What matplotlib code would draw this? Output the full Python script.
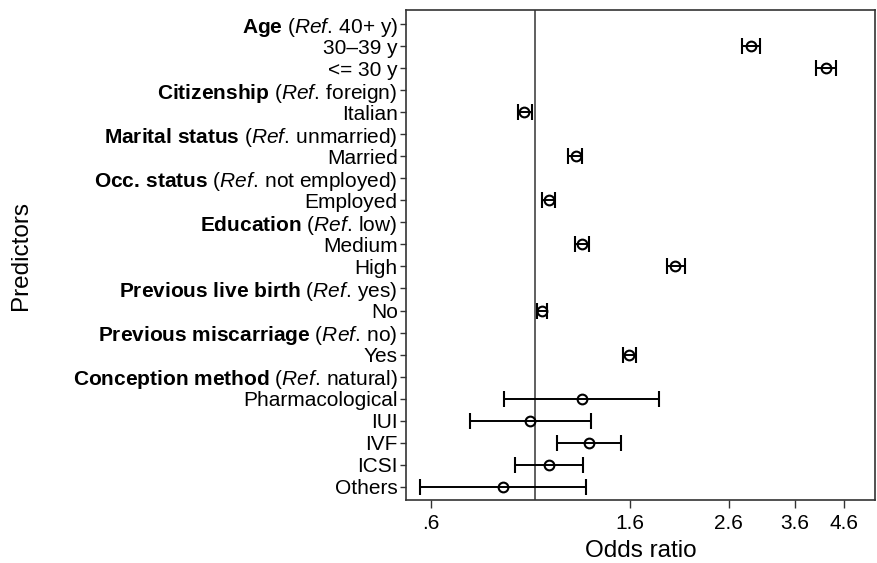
import matplotlib.pyplot as plt
import numpy as np

plt.rcParams['font.family'] = 'Liberation Sans'
plt.rcParams['mathtext.fontset'] = 'custom'
plt.rcParams['mathtext.rm'] = 'Liberation Sans'
plt.rcParams['mathtext.it'] = 'Liberation Sans:italic'
plt.rcParams['mathtext.bf'] = 'Liberation Sans:bold'

# predictor rows (group headers have no estimate)
labels = [
    r'$\mathbf{Age}$ ($\mathit{Ref.}\,$40+ y)',
    '30–39 y',
    '<= 30 y',
    r'$\mathbf{Citizenship}$ ($\mathit{Ref.}\,$foreign)',
    'Italian',
    r'$\mathbf{Marital\ status}$ ($\mathit{Ref.}\,$unmarried)',
    'Married',
    r'$\mathbf{Occ.\,status}$ ($\mathit{Ref.}\,$not employed)',
    'Employed',
    r'$\mathbf{Education}$ ($\mathit{Ref.}\,$low)',
    'Medium',
    'High',
    r'$\mathbf{Previous\ live\ birth}$ ($\mathit{Ref.}\,$yes)',
    'No',
    r'$\mathbf{Previous\ miscarriage}$ ($\mathit{Ref.}\,$no)',
    'Yes',
    r'$\mathbf{Conception\ method}$ ($\mathit{Ref.}\,$natural)',
    'Pharmacological',
    'IUI',
    'IVF',
    'ICSI',
    'Others',
]
odds = [np.nan, 2.90, 4.20, np.nan, 0.95, np.nan, 1.224, np.nan, 1.07, np.nan,
        1.261, 2.00, np.nan, 1.035, np.nan, 1.592, np.nan, 1.259, 0.979, 1.305,
        1.073, 0.856]
lower = [np.nan, 2.78, 4.00, np.nan, 0.92, np.nan, 1.18, np.nan, 1.035, np.nan,
         1.222, 1.92, np.nan, 1.01, np.nan, 1.548, np.nan, 0.861, 0.725, 1.113,
         0.909, 0.568]
upper = [np.nan, 3.03, 4.41, np.nan, 0.988, np.nan, 1.265, np.nan, 1.107, np.nan,
         1.305, 2.10, np.nan, 1.064, np.nan, 1.648, np.nan, 1.846, 1.322, 1.528,
         1.271, 1.286]
xticks = [0.6, 1.6, 2.6, 3.6, 4.6]
xticklabels = ['.6', '1.6', '2.6', '3.6', '4.6']

odds = np.array(odds)
lower = np.array(lower)
upper = np.array(upper)
y = np.arange(len(labels))

fig = plt.figure(figsize=(8.77, 5.63), dpi=100)
ax = fig.add_axes([406 / 877, 63 / 563, 469 / 877, 490 / 563])

ax.axvline(1, color='#444444', lw=1.2, zorder=1)
ax.errorbar(odds, y, xerr=[odds - lower, upper - odds], fmt='o', mfc='none',
            mec='black', ms=7, mew=1.5, ecolor='black', elinewidth=1.4,
            capsize=6, capthick=1.4, zorder=3)

ax.set_xscale('log')
ax.set_xlim(0.53, 5.35)
ax.set_xticks(xticks)
ax.set_xticklabels(xticklabels)
ax.minorticks_off()
ax.set_ylim(len(labels) - 1 + 0.6, -0.64)
ax.set_yticks(y)
ax.set_yticklabels(labels)

for s in ax.spines.values():
    s.set_color('#333333')
    s.set_linewidth(1.2)
ax.tick_params(axis='y', length=4, width=1, color='#333333', labelsize=15, pad=2)
ax.tick_params(axis='x', length=6, width=1, color='#333333', labelsize=15, pad=4)

ax.set_xlabel('Odds ratio', fontsize=17.5, labelpad=5)
fig.text(21 / 877, 1 - 255 / 563, 'Predictors', rotation=90, ha='center',
         va='center', fontsize=17.5)

fig.savefig('out.png', dpi=100)
